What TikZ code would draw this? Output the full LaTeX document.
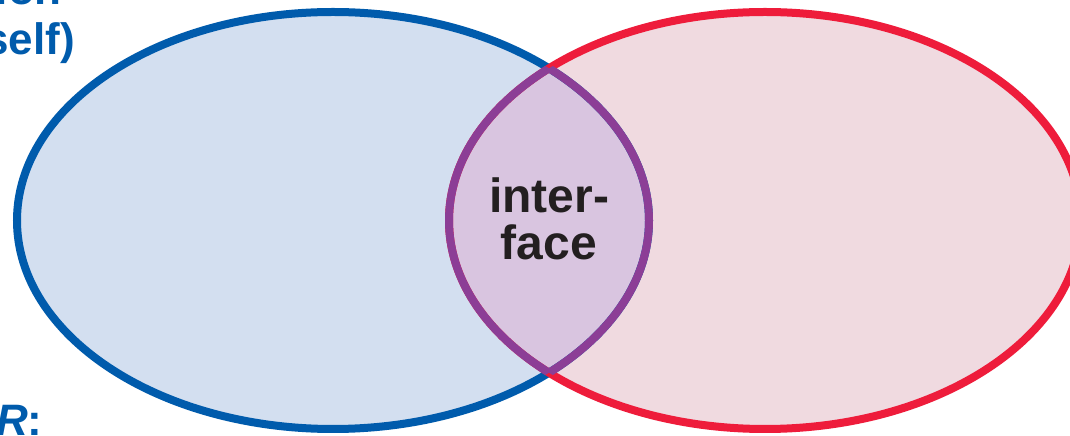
\documentclass[tikz,border=0pt]{standalone}
\usepackage{fontspec}
\setmainfont{Liberation Sans}
\definecolor{bstroke}{HTML}{005BAC}
\definecolor{bfill}{HTML}{D3DFF0}
\definecolor{rstroke}{HTML}{EE1C3B}
\definecolor{rfill}{HTML}{F0DAE0}
\definecolor{pstroke}{HTML}{8C3E96}
\definecolor{pfill}{HTML}{D9C5E0}
\definecolor{txt}{HTML}{231F20}
\tikzset{
  outline/.style={line width=8pt},
  lenslabel/.style={font=\bfseries\fontsize{48}{48}\selectfont, text=txt, anchor=base, inner sep=0pt},
  sidelabel/.style={font=\bfseries\fontsize{44}{50}\selectfont, text=bstroke, inner sep=0pt}
}
\begin{document}
\begin{tikzpicture}[x=1pt,y=1pt]
\useasboundingbox (0,0) rectangle (1070,436);
\clip (0,0) rectangle (1070,436);
\def\leftell{(333,215.5) ellipse [x radius=316, y radius=208.5]}
\def\rightell{(765,215.5) ellipse [x radius=316, y radius=208.5]}
% fills
\fill[bfill] \leftell;
\fill[rfill] \rightell;
\begin{scope}
  \clip \leftell;
  \fill[pfill] \rightell;
\end{scope}
% outer strokes
\draw[outline, bstroke] \leftell;
\draw[outline, rstroke] \rightell;
% lens outline
\begin{scope}
  \clip \leftell;
  \draw[outline, pstroke] \rightell;
\end{scope}
\begin{scope}
  \clip \rightell;
  \draw[outline, pstroke] \leftell;
\end{scope}
% labels
\node[lenslabel] (inter) at (549,223) {inter-};
\node[lenslabel] (face) at (549,176) {face};
\node[sidelabel, anchor=base east] (topline) at (62,431) {Organisation};
\node[sidelabel, anchor=base east] (selfline) at (75,381) {itself)};
\node[sidelabel, anchor=base west] (rline) at (-4,1) {\textit{R}:};
\end{tikzpicture}
\end{document}
